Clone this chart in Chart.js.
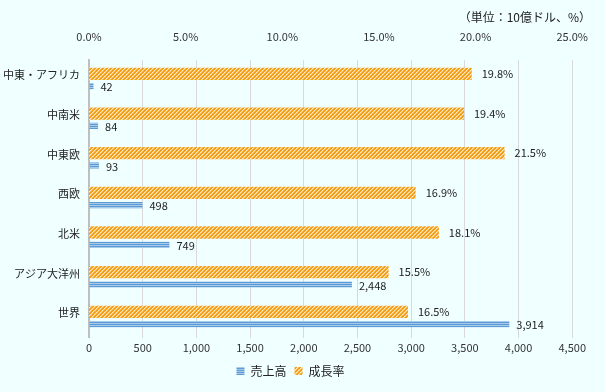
<!DOCTYPE html>
<html>
<head>
<meta charset="utf-8">
<script src="https://cdn.jsdelivr.net/npm/chart.js@4/dist/chart.umd.min.js"></script>
<style>
  html, body { margin: 0; padding: 0; background: #F0FFFF; }
  #wrap { width: 605px; height: 392px; }
</style>
</head>
<body>
<div id="wrap"><canvas id="salesChart" width="605" height="392"></canvas></div>
<script>
'use strict'

var regions = ['中東・アフリカ', '中南米', '中東欧', '西欧', '北米', 'アジア大洋州', '世界'];
var sales = [42, 84, 93, 498, 749, 2448, 3914];
var growth = [19.8, 19.4, 21.5, 16.9, 18.1, 15.5, 16.5];
var salesTicks = [0, 500, 1000, 1500, 2000, 2500, 3000, 3500, 4000, 4500];
var growthTicks = [0, 5, 10, 15, 20, 25];
var unitNote = '（単位：10億ドル、%）';

var FONT = '"Noto Sans CJK JP", "Noto Sans", sans-serif';

// diagonal hatch for growth bars
function makeOrangePattern() {
  var c = document.createElement('canvas');
  c.width = 4; c.height = 4;
  var g = c.getContext('2d');
  for (var x = 0; x < 4; x++) {
    for (var y = 0; y < 4; y++) {
      var k = (x + y) % 4;
      g.fillStyle = k === 0 ? '#FFEBC2' : (k === 1 ? '#FBC463' : '#F59D1A');
      g.fillRect(x, y, 1, 1);
    }
  }
  return g.createPattern(c, 'repeat');
}

// horizontal stripes for sales bars
function makeBluePattern() {
  var c = document.createElement('canvas');
  c.width = 2; c.height = 2;
  var g = c.getContext('2d');
  g.fillStyle = '#5B9BD5';
  g.fillRect(0, 0, 2, 1);
  g.fillStyle = '#A9CBEA';
  g.fillRect(0, 1, 2, 1);
  return g.createPattern(c, 'repeat');
}

var valueLabels = {
  id: 'valueLabels',
  afterDatasetsDraw: function (chart) {
    var ctx = chart.ctx;
    ctx.save();
    ctx.font = '11px ' + FONT;
    ctx.fillStyle = '#222';
    ctx.textBaseline = 'middle';
    ctx.textAlign = 'left';
    chart.data.datasets.forEach(function (ds, i) {
      var meta = chart.getDatasetMeta(i);
      meta.data.forEach(function (bar, j) {
        var v = ds.data[j];
        var txt = ds.isRate ? v.toFixed(1) + '%' : v.toLocaleString('en-US');
        var dx = ds.isRate ? 10 : 7;
        var dy = ds.isRate ? 0 : 1;
        ctx.fillText(txt, bar.x + dx, bar.y + dy);
      });
    });
    // unit note, top right
    ctx.font = '12px ' + FONT;
    ctx.textAlign = 'right';
    ctx.fillText(unitNote, 591, 17);
    ctx.restore();
  }
};

var chartEl = document.getElementById('salesChart');

var salesChart = new Chart(chartEl, {
  type: 'bar',
  data: {
    labels: regions,
    datasets: [
      {
        label: '成長率',
        data: growth,
        isRate: true,
        xAxisID: 'x2',
        backgroundColor: makeOrangePattern(),
        borderWidth: 0,
        barPercentage: 1.0,
        categoryPercentage: 0.62
      },
      {
        label: '売上高',
        data: sales,
        xAxisID: 'x',
        backgroundColor: makeBluePattern(),
        borderWidth: 0,
        barPercentage: 0.5,
        categoryPercentage: 0.62
      }
    ]
  },
  options: {
    indexAxis: 'y',
    responsive: false,
    animation: false,
    layout: { padding: { left: 4, right: 28, top: 13, bottom: 5 } },
    scales: {
      x: {
        position: 'bottom',
        min: 0,
        max: 4500,
        afterBuildTicks: function (axis) {
          axis.ticks = salesTicks.map(function (v) { return { value: v }; });
        },
        ticks: {
          color: '#333',
          font: { family: FONT, size: 11 },
          padding: 3,
          callback: function (v) { return Number(v).toLocaleString('en-US'); }
        },
        grid: { color: '#D9D9D9', drawTicks: false },
        border: { display: false }
      },
      x2: {
        position: 'top',
        min: 0,
        max: 25,
        afterBuildTicks: function (axis) {
          axis.ticks = growthTicks.map(function (v) { return { value: v }; });
        },
        ticks: {
          color: '#333',
          font: { family: FONT, size: 11 },
          padding: 17,
          callback: function (v) { return Number(v).toFixed(1) + '%'; }
        },
        grid: { display: false, drawTicks: false },
        border: { display: false }
      },
      y: {
        afterFit: function (axis) { axis.width = 85; },
        ticks: {
          color: '#222',
          font: { family: FONT, size: 11 },
          padding: 9,
          labelOffset: -5
        },
        grid: { display: false, drawTicks: false },
        border: { display: true, color: '#BFBFBF', width: 2 }
      }
    },
    plugins: {
      legend: {
        position: 'bottom',
        labels: {
          color: '#222',
          font: { family: FONT, size: 12 },
          boxWidth: 8,
          boxHeight: 8,
          padding: 8,
          sort: function (a, b) { return b.datasetIndex - a.datasetIndex; }
        }
      },
      tooltip: { enabled: false }
    }
  },
  plugins: [valueLabels]
});
</script>
</body>
</html>
